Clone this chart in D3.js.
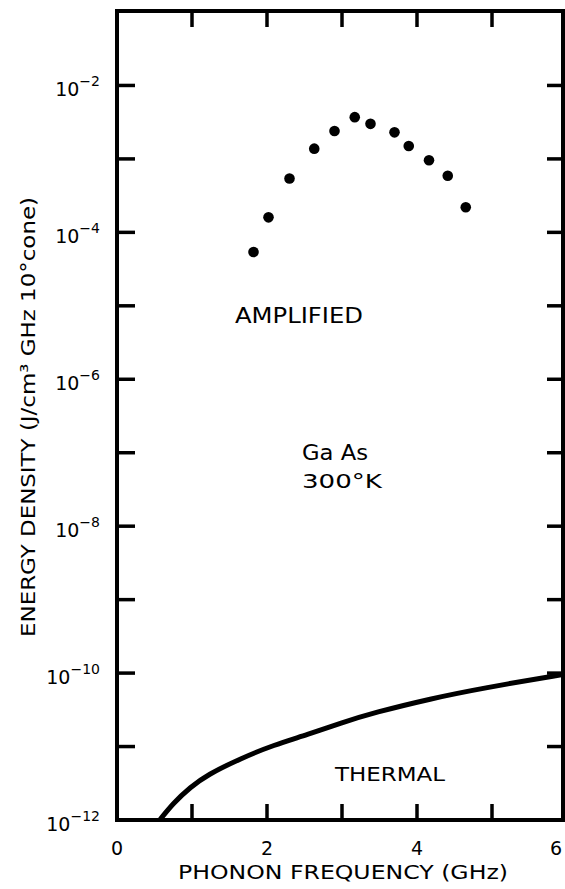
<!doctype html>
<html>
  <head>
    <meta charset="utf-8">
    <title>GaAs phonon energy density</title>
    <script src="https://cdnjs.cloudflare.com/ajax/libs/d3/7.8.5/d3.min.js"></script>
    <style>
      body { margin: 0; background: #fff; }
      svg { display: block; }
      text { font-family: "DejaVu Sans", sans-serif; fill: #000; }
    </style>
  </head>
  <body>
    <div id="chart"></div>
    <script>
      // amplified phonons (dots)
      const ampFreq = [1.82, 2.02, 2.30, 2.63, 2.90, 3.17, 3.38, 3.70, 3.89, 4.16, 4.41, 4.65];
      const ampEnergy = [5.4e-5, 1.6e-4, 5.4e-4, 1.38e-3, 2.4e-3, 3.7e-3, 3.0e-3, 2.3e-3, 1.5e-3, 9.6e-4, 5.9e-4, 2.2e-4];

      // thermal background (thick line)
      const thermFreq = [0.57, 0.75, 0.98, 1.20, 1.65, 2.09, 2.54, 2.99, 3.43, 4.19, 4.86, 6.0];
      const thermEnergy = [1e-12, 1.7e-12, 2.8e-12, 4.1e-12, 6.9e-12, 1.05e-11, 1.45e-11, 2.1e-11, 2.9e-11, 4.5e-11, 6.2e-11, 9.8e-11];

      const xTicks = [1, 2, 3, 4, 5];
      const xTickLabels = [0, 2, 4, 6];
      const yTicks = [1e-2, 1e-3, 1e-4, 1e-5, 1e-6, 1e-7, 1e-8, 1e-9, 1e-10, 1e-11];
      const yTickLabels = [-2, -4, -6, -8, -10, -12];

      const W = 565, H = 889;
      const fLeft = 117, fRight = 563, fTop = 11, fBottom = 820;

      const x = d3.scaleLinear().domain([0, 6]).range([117, 567]);
      const y = d3.scaleLog().domain([1e-12, 1e-1]).range([820, 12]);

      const svg = d3.select('#chart').append('svg')
        .attr('width', W)
        .attr('height', H);

      svg.append('defs').append('clipPath').attr('id', 'frame')
        .append('rect')
        .attr('x', fLeft).attr('y', fTop)
        .attr('width', fRight - fLeft).attr('height', fBottom - fTop);

      // frame
      svg.append('rect')
        .attr('x', fLeft).attr('y', fTop)
        .attr('width', fRight - fLeft).attr('height', fBottom - fTop)
        .attr('fill', 'none')
        .attr('stroke', '#000')
        .attr('stroke-width', 4);

      // ticks on all four sides, pointing inward
      const tk = 16;
      svg.selectAll('.tb').data(xTicks).join('line')
        .attr('x1', d => x(d)).attr('x2', d => x(d))
        .attr('y1', fBottom).attr('y2', fBottom - tk)
        .attr('stroke', '#000').attr('stroke-width', 3.5);
      svg.selectAll('.tt').data(xTicks).join('line')
        .attr('x1', d => x(d)).attr('x2', d => x(d))
        .attr('y1', fTop).attr('y2', fTop + tk)
        .attr('stroke', '#000').attr('stroke-width', 3.5);
      svg.selectAll('.tl').data(yTicks).join('line')
        .attr('x1', fLeft).attr('x2', fLeft + tk + 2)
        .attr('y1', d => y(d)).attr('y2', d => y(d))
        .attr('stroke', '#000').attr('stroke-width', 3.5);
      svg.selectAll('.tr').data(yTicks).join('line')
        .attr('x1', fRight).attr('x2', fRight - tk)
        .attr('y1', d => y(d)).attr('y2', d => y(d))
        .attr('stroke', '#000').attr('stroke-width', 3.5);

      // x tick labels (last one kept inside the page)
      svg.selectAll('.xl').data(xTickLabels).join('text')
        .attr('x', d => Math.min(x(d), W - 9))
        .attr('y', 855)
        .attr('text-anchor', 'middle')
        .attr('font-size', 19)
        .text(d => d);

      // y tick labels, 10 with exponent
      const yl = svg.selectAll('.yl').data(yTickLabels).join('text')
        .attr('x', 100)
        .attr('y', d => y(Math.pow(10, d)) + 11)
        .attr('text-anchor', 'end')
        .attr('font-size', 19);
      yl.append('tspan').text('10');
      yl.append('tspan')
        .attr('dy', -10)
        .attr('font-size', 14)
        .text(d => '\u2212' + (-d));

      // axis titles
      svg.append('text')
        .attr('x', 178).attr('y', 879)
        .attr('font-size', 20)
        .attr('textLength', 330)
        .attr('lengthAdjust', 'spacingAndGlyphs')
        .text('PHONON  FREQUENCY  (GHz)');

      svg.append('text')
        .attr('transform', 'translate(35,417) rotate(-90)')
        .attr('text-anchor', 'middle')
        .attr('font-size', 20)
        .attr('textLength', 440)
        .attr('lengthAdjust', 'spacingAndGlyphs')
        .text('ENERGY DENSITY  (J/cm\u00b3 GHz 10\u00b0cone)');

      // annotations
      svg.append('text')
        .attr('x', 235).attr('y', 323)
        .attr('font-size', 22)
        .attr('textLength', 128)
        .attr('lengthAdjust', 'spacingAndGlyphs')
        .text('AMPLIFIED');
      svg.append('text')
        .attr('x', 302).attr('y', 460)
        .attr('font-size', 21)
        .attr('textLength', 66)
        .attr('lengthAdjust', 'spacingAndGlyphs')
        .text('Ga As');
      svg.append('text')
        .attr('x', 302).attr('y', 488)
        .attr('font-size', 20)
        .attr('textLength', 80)
        .attr('lengthAdjust', 'spacingAndGlyphs')
        .text('300\u00b0K');
      svg.append('text')
        .attr('x', 335).attr('y', 781)
        .attr('font-size', 20)
        .attr('textLength', 110)
        .attr('lengthAdjust', 'spacingAndGlyphs')
        .text('THERMAL');

      // thermal curve
      const therm = thermFreq.map((f, i) => [f, thermEnergy[i]]);
      svg.append('path')
        .datum(therm)
        .attr('clip-path', 'url(#frame)')
        .attr('fill', 'none')
        .attr('stroke', '#000')
        .attr('stroke-width', 5)
        .attr('d', d3.line()
          .x(d => x(d[0]))
          .y(d => y(d[1]))
          .curve(d3.curveBasis));

      // amplified points
      const amp = ampFreq.map((f, i) => [f, ampEnergy[i]]);
      svg.selectAll('.pt').data(amp).join('circle')
        .attr('cx', d => x(d[0]))
        .attr('cy', d => y(d[1]))
        .attr('r', 5.3)
        .attr('fill', '#000');
    </script>
  </body>
</html>
